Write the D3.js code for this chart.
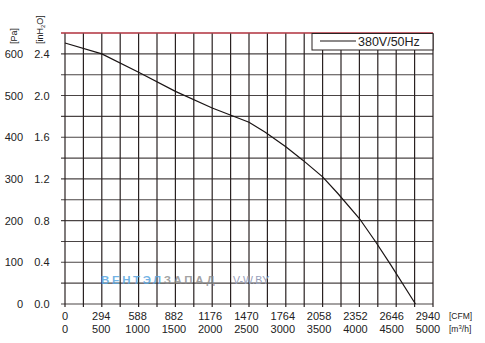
<!DOCTYPE html>
<html>
<head>
<meta charset="utf-8">
<script src="https://cdn.jsdelivr.net/npm/d3@7"></script>
<style>
  html, body { margin: 0; padding: 0; background: #fff; }
  svg { display: block; font-family: "Liberation Sans", Arial, sans-serif; }
</style>
</head>
<body>
<svg id="chart" width="485" height="343"></svg>
<script>
// Fan performance curve: static pressure vs air flow
const flowCFM = [0, 294, 588, 882, 1176, 1470, 1600, 1764, 1900, 2058, 2180, 2352, 2480, 2600, 2800];
const pressurePa = [626, 600, 556, 510, 470, 436, 412, 377, 345, 305, 265, 205, 150, 95, 0];

const cfmTicks = [0, 294, 588, 882, 1176, 1470, 1764, 2058, 2352, 2646, 2940];
const m3hTicks = [0, 500, 1000, 1500, 2000, 2500, 3000, 3500, 4000, 4500, 5000];
const paTicks = [0, 100, 200, 300, 400, 500, 600];
const inH2OTicks = ["0.0", "0.4", "0.8", "1.2", "1.6", "2.0", "2.4"];
const seriesName = "380V/50Hz";

const svg = d3.select("#chart");
const plotLeft = 65, plotRight = 433, plotTop = 33, plotBottom = 304;

const x = d3.scaleLinear().domain([0, 2940]).range([plotLeft, plotRight]);
const y = d3.scaleLinear().domain([0, 650]).range([plotBottom, plotTop]);
// tick labels drift slightly left of their gridlines toward the right end
const labelX = d => x(d) - 5 * d / 2940;

// grid: 20 columns (147 CFM), 13 rows (50 Pa)
const g = svg.append("g");
const xGrid = d3.range(0, 2940 + 1, 147);
const yGrid = d3.range(0, 650 + 1, 50);

g.selectAll("line.hg").data(yGrid).join("line")
  .attr("x1", plotLeft - 4).attr("x2", plotRight)
  .attr("y1", d => y(d)).attr("y2", d => y(d))
  .attr("stroke", d => d === 650 ? "#b0303c" : "#4a4444")
  .attr("stroke-width", d => d === 650 ? 1.3 : 1.1);

g.selectAll("line.vg").data(xGrid).join("line")
  .attr("x1", d => x(d)).attr("x2", d => x(d))
  .attr("y1", plotTop + 0.6).attr("y2", plotBottom + 3)
  .attr("stroke", "#2a2222")
  .attr("stroke-width", 1.2);

// watermark
const wm = svg.append("text").attr("x", 101).attr("y", 284)
  .attr("font-size", 11.5).attr("letter-spacing", 2.6).attr("font-weight", "bold");
wm.append("tspan").attr("fill", "#5aa6e0").attr("fill-opacity", 0.85).text("ВЕНТЭЛ");
wm.append("tspan").attr("fill", "#8a8a8a").attr("fill-opacity", 0.8).text("ЗАПАД");
svg.append("text").attr("x", 233).attr("y", 284).attr("font-size", 10.5)
  .attr("fill", "#97a0bb").text("V-W.BY");

// curve
const line = d3.line().x((d, i) => x(flowCFM[i])).y(d => y(d));
svg.append("path").datum(pressurePa)
  .attr("d", line).attr("fill", "none")
  .attr("stroke", "#1a1414").attr("stroke-width", 1.2);

// legend
const lg = svg.append("g");
lg.append("rect").attr("x", 312).attr("y", plotTop + 0.5).attr("width", plotRight - 312).attr("height", 16.5)
  .attr("fill", "#fff").attr("stroke", "#2a2222").attr("stroke-width", 1);
lg.append("line").attr("x1", 320).attr("x2", 356).attr("y1", 41).attr("y2", 41)
  .attr("stroke", "#1a1414").attr("stroke-width", 1.2);
lg.append("text").attr("x", 358).attr("y", 46).attr("font-size", 12.5).attr("fill", "#222").text(seriesName);

// y labels
svg.selectAll("text.pa").data(paTicks).join("text")
  .attr("x", 23).attr("y", d => y(d) + 4).attr("text-anchor", "end")
  .attr("font-size", 11).attr("fill", "#222").text(d => d);
svg.selectAll("text.inh").data(paTicks).join("text")
  .attr("x", 49.5).attr("y", d => y(d) + 4).attr("text-anchor", "end")
  .attr("font-size", 11).attr("fill", "#222").text((d, i) => inH2OTicks[i]);

svg.append("text").attr("transform", "translate(17,44) rotate(-90)")
  .attr("font-size", 9).attr("fill", "#222").text("[Pa]");
const inTitle = svg.append("text").attr("transform", "translate(43,44) rotate(-90)")
  .attr("font-size", 9).attr("fill", "#222");
inTitle.append("tspan").text("[inH");
inTitle.append("tspan").attr("font-size", 6).attr("dy", 2).text("2");
inTitle.append("tspan").attr("dy", -2).text("O]");

// x labels
svg.selectAll("text.cfm").data(cfmTicks).join("text")
  .attr("x", labelX).attr("y", 320).attr("text-anchor", "middle")
  .attr("font-size", 11).attr("fill", "#222").text(d => d);
svg.selectAll("text.m3h").data(m3hTicks).join("text")
  .attr("x", (d, i) => labelX(cfmTicks[i])).attr("y", 333).attr("text-anchor", "middle")
  .attr("font-size", 11).attr("fill", "#222").text(d => d);

svg.append("text").attr("x", 449).attr("y", 319).attr("font-size", 8.5).attr("fill", "#222").text("[CFM]");
const m3 = svg.append("text").attr("x", 449).attr("y", 332).attr("font-size", 8.5).attr("fill", "#222");
m3.append("tspan").text("[m");
m3.append("tspan").attr("font-size", 6).attr("dy", -3).text("3");
m3.append("tspan").attr("dy", 3).text("/h]");
</script>
</body>
</html>
